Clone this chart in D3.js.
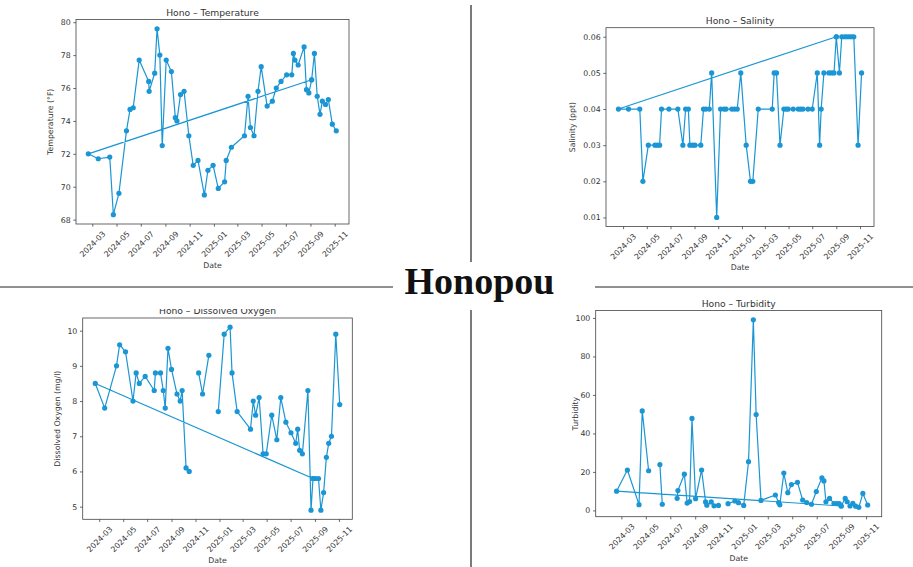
<!DOCTYPE html>
<html>
<head>
<meta charset="utf-8">
<script src="https://cdn.jsdelivr.net/npm/d3@7"></script>
<style>
  html, body { margin: 0; padding: 0; background: #fff; }
  svg { display: block; font-family: "DejaVu Sans", sans-serif; }
</style>
</head>
<body>
<svg id="fig" width="913" height="567"></svg>
<script>
// ---- Station and chart text ----
const siteName = "Honopou";
const titleTemp = "Hono \u2013 Temperature";
const titleSal = "Hono \u2013 Salinity";
const titleDO = "Hono \u2013 Dissolved Oxygen";
const titleTurb = "Hono \u2013 Turbidity";
const labelTemp = "Temperature (\u00b0F)";
const labelSal = "Salinity (ppt)";
const labelDO = "Dissolved Oxygen (mg/l)";
const labelTurb = "Turbidity";
const labelDate = "Date";

// ---- Tick labels ----
const dateTicks = ["2024-03", "2024-05", "2024-07", "2024-09", "2024-11", "2025-01",
                   "2025-03", "2025-05", "2025-07", "2025-09", "2025-11"];
const tempTicks = [68, 70, 72, 74, 76, 78, 80];
const salTicks = [0.01, 0.02, 0.03, 0.04, 0.05, 0.06];
const doTicks = [5, 6, 7, 8, 9, 10];
const turbTicks = [0, 20, 40, 60, 80, 100];

// ---- Temperature (°F), records in logged order ----
const tempDates = ["2025-09-04",
  "2024-02-20","2024-03-16","2024-04-14","2024-04-23","2024-05-07","2024-05-26","2024-06-04","2024-06-12",
  "2024-06-27","2024-07-21","2024-07-22","2024-08-05","2024-08-11","2024-08-18","2024-08-24","2024-09-03",
  "2024-09-16","2024-09-26","2024-09-30","2024-10-09","2024-10-18","2024-10-30","2024-11-10","2024-11-22",
  "2024-12-08","2024-12-17","2024-12-30","2025-01-12","2025-01-28","2025-02-01","2025-02-14","2025-03-19",
  "2025-03-28","2025-04-03","2025-04-12","2025-04-22","2025-04-30","2025-05-15","2025-05-28","2025-06-07",
  "2025-06-19","2025-07-03","2025-07-16","2025-07-20","2025-07-24","2025-08-01","2025-08-16","2025-08-22",
  "2025-08-28","2025-09-04","2025-09-11","2025-09-18","2025-09-25","2025-10-01","2025-10-09","2025-10-16",
  "2025-10-26","2025-11-05"];
const tempValues = [76.5,
  72.0, 71.7, 71.8, 68.3, 69.6, 73.4, 74.7, 74.8,
  77.7, 76.4, 75.8, 76.9, 79.6, 78.0, 72.5, 77.7,
  77.0, 74.2, 74.0, 75.6, 75.8, 73.1, 71.3, 71.6,
  69.5, 71.0, 71.3, 69.9, 70.3, 71.6, 72.4, 73.1,
  75.5, 73.6, 73.1, 75.8, 77.3, 74.9, 75.2, 76.0,
  76.4, 76.8, 76.8, 78.1, 77.7, 77.4, 78.5, 75.9,
  75.7, 76.5, 78.1, 75.5, 74.4, 75.2, 75.0, 75.3,
  73.8, 73.4];

// ---- Salinity (ppt), records in logged order ----
const salDates = ["2025-09-01",
  "2024-02-18","2024-03-15","2024-04-13","2024-04-21","2024-05-05","2024-05-22","2024-05-28","2024-06-03",
  "2024-06-08","2024-06-27","2024-07-20","2024-08-02","2024-08-09","2024-08-16","2024-08-20","2024-08-27",
  "2024-09-02","2024-09-17","2024-09-24","2024-09-30","2024-10-09","2024-10-15","2024-10-28","2024-11-07",
  "2024-11-16","2024-11-21","2024-12-06","2024-12-13","2024-12-20","2024-12-29","2025-01-12","2025-01-23",
  "2025-01-29","2025-02-12","2025-03-20","2025-03-25","2025-03-31","2025-04-09","2025-04-19","2025-04-25",
  "2025-04-30","2025-05-13","2025-05-26","2025-06-01","2025-06-07","2025-06-20","2025-07-01","2025-07-14",
  "2025-07-20","2025-07-24","2025-07-31","2025-08-13","2025-08-20","2025-08-26","2025-09-01","2025-09-09",
  "2025-09-15","2025-09-22","2025-09-28","2025-10-04","2025-10-10","2025-10-16","2025-10-27","2025-11-05"];
const salValues = [0.06,
  0.04, 0.04, 0.04, 0.02, 0.03, 0.03, 0.03, 0.03,
  0.04, 0.04, 0.04, 0.03, 0.04, 0.04, 0.03, 0.03,
  0.03, 0.03, 0.04, 0.04, 0.04, 0.05, 0.01, 0.04,
  0.04, 0.04, 0.04, 0.04, 0.04, 0.05, 0.03, 0.02,
  0.02, 0.04, 0.04, 0.05, 0.05, 0.03, 0.04, 0.04,
  0.04, 0.04, 0.04, 0.04, 0.04, 0.04, 0.04, 0.05,
  0.03, 0.04, 0.05, 0.05, 0.05, 0.05, 0.06, 0.05,
  0.06, 0.06, 0.06, 0.06, 0.06, 0.06, 0.03, 0.05];

// ---- Dissolved oxygen (mg/l), records in logged order; null = not measured ----
const doDates = ["2025-08-27",
  "2024-02-20","2024-03-15","2024-04-14","2024-04-22","2024-05-07","2024-05-26","2024-06-03","2024-06-11",
  "2024-06-26","2024-07-19","2024-07-22","2024-08-04","2024-08-11","2024-08-16","2024-08-23","2024-09-01",
  "2024-09-15","2024-09-23","2024-09-28","2024-10-08","2024-10-16","2024-10-29","2024-11-09","2024-11-19",
  "2024-12-05","2024-12-18","2024-12-29","2025-01-13","2025-01-28","2025-02-02","2025-02-15","2025-03-21",
  "2025-03-28","2025-04-03","2025-04-12","2025-04-22","2025-04-30","2025-05-14","2025-05-27","2025-06-06",
  "2025-06-19","2025-07-02","2025-07-14","2025-07-19","2025-07-24","2025-07-31","2025-08-14","2025-08-22",
  "2025-08-27","2025-09-02","2025-09-10","2025-09-16","2025-09-23","2025-09-30","2025-10-06","2025-10-13",
  "2025-10-24","2025-11-03"];
const doValues = [5.8,
  8.5, 7.8, 9.0, 9.6, 9.4, 8.0, 8.8, 8.5,
  8.7, 8.3, 8.8, 8.8, 8.3, 7.8, 9.5, 8.9,
  8.2, 8.0, 8.3, 6.1, 6.0, null, 8.8, 8.2,
  9.3, null, 7.7, 9.9, 10.1, 8.8, 7.7, 7.2,
  8.0, 7.6, 8.1, 6.5, 6.5, 7.6, 6.9, 8.1,
  7.4, 7.1, 6.8, 7.2, 6.6, 6.5, 8.3, 4.9,
  5.8, 5.8, 5.8, 4.9, 5.4, 6.4, 6.8, 7.0,
  9.9, 7.9];

// ---- Turbidity, records in logged order; null = not measured ----
const turbDates = ["2025-08-31",
  "2024-02-18","2024-03-16","2024-04-14","2024-04-22","2024-05-08","2024-05-26","2024-06-05","2024-06-11",
  "2024-06-27","2024-07-18","2024-07-20","2024-08-05","2024-08-12","2024-08-18","2024-08-24","2024-09-02",
  "2024-09-17","2024-09-27","2024-09-30","2024-10-11","2024-10-18","2024-10-29","2024-11-10","2024-11-22",
  "2024-12-09","2024-12-18","2024-12-31","2025-01-12","2025-01-24","2025-01-31","2025-02-12","2025-03-20",
  "2025-03-28","2025-03-31","2025-04-10","2025-04-20","2025-04-29","2025-05-14","2025-05-27","2025-06-06",
  "2025-06-18","2025-06-30","2025-07-14","2025-07-19","2025-07-24","2025-08-02","2025-08-13","2025-08-20",
  "2025-08-26","2025-08-31","2025-09-10","2025-09-15","2025-09-22","2025-09-29","2025-10-06","2025-10-14",
  "2025-10-24","2025-11-05"];
const turbValues = [2.3,
  10.0, 21.0, 3.0, 51.7, 20.6, null, 23.8, 3.2,
  null, 6.3, 10.3, 18.8, 3.8, 4.6, 47.8, 6.1,
  21.0, 4.4, 2.7, 4.4, 2.4, 2.6, null, 3.5,
  4.9, 4.0, 2.6, 25.3, 99.0, 49.8, 5.2, 8.0,
  4.1, 2.9, 19.4, 9.2, 13.4, 14.6, 5.4, 4.1,
  3.2, 9.8, 16.9, 15.3, 4.5, 6.2, 3.6, 3.6,
  3.6, 2.3, 6.2, 4.5, 2.3, 3.7, 2.2, 1.6,
  8.8, 2.8];

// ---- Styling ----
const lineColor = "#1a96d4";
const inkColor = "#333";
const tickFont = 7.8;
const titleFont = 9.2;

const parseDay = d3.timeParse("%Y-%m-%d");
const parseMonth = d3.timeParse("%Y-%m");
const fmtMonth = d3.timeFormat("%Y-%m");

const svg = d3.select("#fig");

// Frame dividers between the four plots and the station name
const divider = [
  [471, 5, 471, 262],
  [471, 310, 471, 567],
  [0, 287, 393, 287],
  [595, 287, 913, 287]
];
svg.selectAll("line.divider").data(divider).join("line")
  .attr("class", "divider")
  .attr("x1", d => d[0]).attr("y1", d => d[1])
  .attr("x2", d => d[2]).attr("y2", d => d[3])
  .attr("stroke", "#222").attr("stroke-width", 1.2);

svg.append("text")
  .attr("x", 479.5).attr("y", 294)
  .attr("text-anchor", "middle")
  .attr("font-family", "'Liberation Serif', 'Times New Roman', serif")
  .attr("font-weight", "bold")
  .attr("font-size", 38)
  .attr("fill", "#111")
  .text(siteName);

// Panel layout: plot box [left, top, right, bottom] and the visible date range
const panels = [
  { title: titleTemp, ylabel: labelTemp, dates: tempDates, values: tempValues,
    yTicks: tempTicks, yFmt: d3.format("d"),
    box: [76, 19.5, 349, 224], xDomain: ["2024-01-20", "2025-12-07"] },
  { title: titleSal, ylabel: labelSal, dates: salDates, values: salValues,
    yTicks: salTicks, yFmt: d3.format(".2f"),
    box: [606, 27.7, 874, 226.5], xDomain: ["2024-01-17", "2025-12-07"] },
  { title: titleDO, ylabel: labelDO, dates: doDates, values: doValues,
    yTicks: doTicks, yFmt: d3.format("d"),
    box: [82.7, 318, 352.3, 519.3], xDomain: ["2024-01-19", "2025-12-05"], clipTop: 309 },
  { title: titleTurb, ylabel: labelTurb, dates: turbDates, values: turbValues,
    yTicks: turbTicks, yFmt: d3.format("d"),
    box: [595.7, 310.5, 881.7, 516.7], xDomain: ["2023-12-28", "2025-12-10"], ylabelGap: 20 }
];

panels.forEach((cfg, idx) => drawPanel(cfg, idx));

function drawPanel(cfg, idx) {
  const [x0, y0, x1, y1] = cfg.box;
  const recs = cfg.dates.map((d, i) => ({ date: parseDay(d), v: cfg.values[i] }));
  const present = cfg.values.filter(v => v != null);
  const [lo, hi] = d3.extent(present);
  const pad = (hi - lo) * 0.05;

  const x = d3.scaleTime().domain(cfg.xDomain.map(parseDay)).range([x0, x1]);
  const y = d3.scaleLinear().domain([lo - pad, hi + pad]).range([y1, y0]);

  const g = svg.append("g");
  if (cfg.clipTop != null) {
    const id = "clip" + idx;
    svg.append("defs").append("clipPath").attr("id", id)
      .append("rect").attr("x", 0).attr("y", cfg.clipTop).attr("width", 913).attr("height", 567 - cfg.clipTop);
    g.attr("clip-path", `url(#${id})`);
  }

  // Title
  g.append("text")
    .attr("x", (x0 + x1) / 2).attr("y", y0 - 3.8)
    .attr("text-anchor", "middle")
    .attr("font-size", titleFont)
    .attr("fill", inkColor)
    .text(cfg.title);

  // Series line and markers
  const line = d3.line()
    .defined(d => d.v != null)
    .x(d => x(d.date))
    .y(d => y(d.v));
  g.append("path").datum(recs)
    .attr("d", line)
    .attr("fill", "none")
    .attr("stroke", lineColor)
    .attr("stroke-width", 1.2)
    .attr("stroke-linejoin", "round");
  g.append("g").selectAll("circle")
    .data(recs.filter(d => d.v != null))
    .join("circle")
    .attr("cx", d => x(d.date))
    .attr("cy", d => y(d.v))
    .attr("r", 2.6)
    .attr("fill", lineColor);

  // Plot frame
  g.append("rect")
    .attr("x", x0).attr("y", y0)
    .attr("width", x1 - x0).attr("height", y1 - y0)
    .attr("fill", "none")
    .attr("stroke", "#444")
    .attr("stroke-width", 0.8);

  // Y axis
  const ya = g.append("g")
    .attr("transform", `translate(${x0},0)`)
    .call(d3.axisLeft(y).tickValues(cfg.yTicks).tickFormat(cfg.yFmt).tickSize(2.7).tickPadding(2.7));
  ya.select(".domain").remove();
  ya.attr("font-size", tickFont).attr("font-family", "'DejaVu Sans', sans-serif");
  ya.selectAll(".tick line").attr("stroke", "#444").attr("stroke-width", 0.8);
  ya.selectAll(".tick text").attr("fill", inkColor).attr("dy", null).attr("dominant-baseline", "central");

  // X axis with 45-degree month labels
  const xa = g.append("g")
    .attr("transform", `translate(0,${y1})`)
    .call(d3.axisBottom(x).tickValues(dateTicks.map(parseMonth)).tickFormat(fmtMonth).tickSize(2.7).tickPadding(0));
  xa.select(".domain").remove();
  xa.attr("font-size", tickFont).attr("font-family", "'DejaVu Sans', sans-serif");
  xa.selectAll(".tick line").attr("stroke", "#444").attr("stroke-width", 0.8);
  const lineH = tickFont * 1.164;
  let labelBlock = 0;
  xa.selectAll(".tick text").each(function () {
    const L = this.getComputedTextLength();
    const H = (L + lineH) * Math.SQRT1_2;
    labelBlock = Math.max(labelBlock, H);
    d3.select(this)
      .attr("y", null).attr("dy", null)
      .attr("fill", inkColor)
      .attr("text-anchor", "middle")
      .attr("dominant-baseline", "central")
      .attr("transform", `translate(0,${2.7 + 2.7 + H / 2}) rotate(-45)`);
  });

  // X axis label
  g.append("text")
    .attr("x", (x0 + x1) / 2)
    .attr("y", y1 + 5.4 + labelBlock + 3.1 + tickFont * 0.76)
    .attr("text-anchor", "middle")
    .attr("font-size", tickFont)
    .attr("fill", inkColor)
    .text(labelDate);

  // Y axis label, left of the widest tick label unless a fixed gap is given
  let minX = 0;
  ya.selectAll(".tick text").each(function () {
    minX = Math.min(minX, this.getBBox().x - 2.7);
  });
  const yLabelX = cfg.ylabelGap != null ? x0 - cfg.ylabelGap : x0 + minX - 3.1 - lineH / 2;
  g.append("text")
    .attr("transform", `translate(${yLabelX},${(y0 + y1) / 2}) rotate(-90)`)
    .attr("text-anchor", "middle")
    .attr("dominant-baseline", "central")
    .attr("font-size", tickFont)
    .attr("fill", inkColor)
    .text(cfg.ylabel);
}
</script>
</body>
</html>
